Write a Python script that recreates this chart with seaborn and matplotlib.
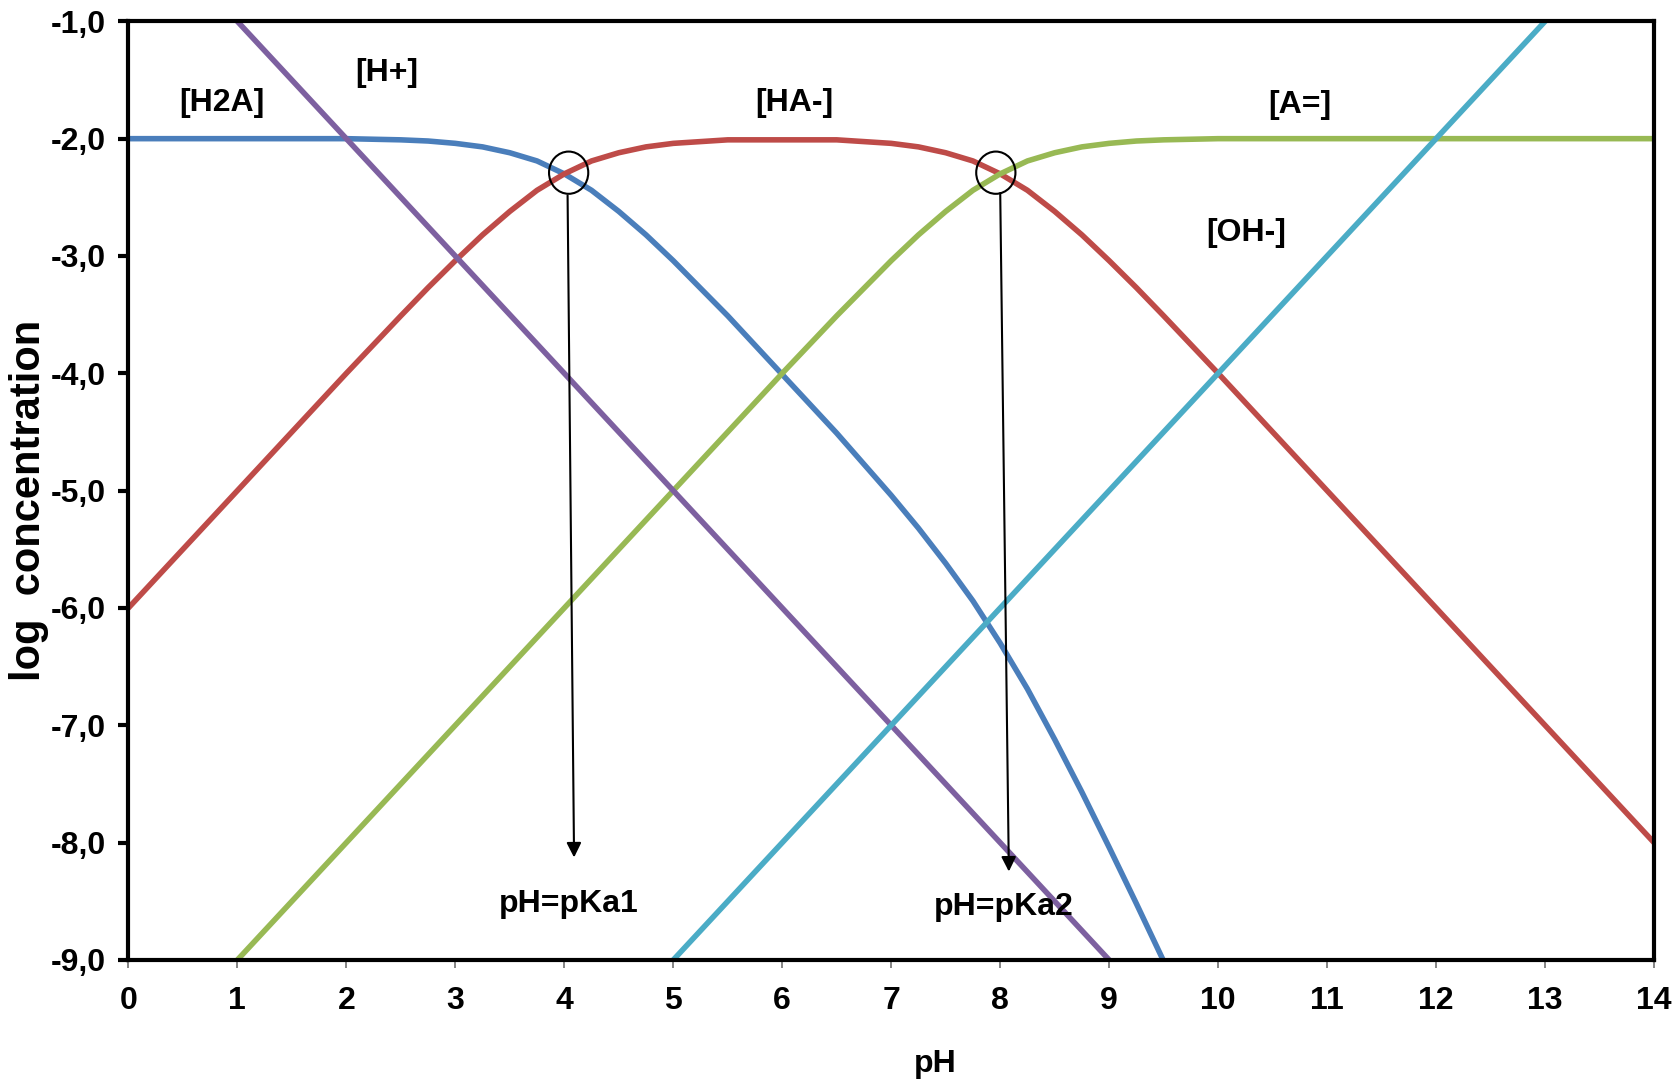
import matplotlib
matplotlib.use("Agg")
import matplotlib.pyplot as plt
import seaborn as sns
from matplotlib.patches import Ellipse
from matplotlib.ticker import FuncFormatter

# values (log concentration vs pH)
ph = [0, 1, 2, 2.5, 2.75, 3, 3.25, 3.5, 3.75, 4, 4.25, 4.5, 4.75, 5, 5.5, 6, 6.5,
      7, 7.25, 7.5, 7.75, 8, 8.25, 8.5, 8.75, 9, 9.25, 9.5, 10, 11, 12, 13, 14]
log_h2a = [-2.00, -2.00, -2.00, -2.01, -2.02, -2.04, -2.07, -2.12, -2.19, -2.30, -2.44,
           -2.62, -2.82, -3.04, -3.51, -4.01, -4.51, -5.04, -5.32, -5.62, -5.94, -6.30,
           -6.69, -7.12, -7.57, -8.04, -8.52, -9.01, -10.00]
log_ha = [-6.00, -5.00, -4.00, -3.51, -3.27, -3.04, -2.82, -2.62, -2.44, -2.30, -2.19,
          -2.12, -2.07, -2.04, -2.01, -2.01, -2.01, -2.04, -2.07, -2.12, -2.19, -2.30,
          -2.44, -2.62, -2.82, -3.04, -3.27, -3.51, -4.00, -5.00, -6.00, -7.00, -8.00]
log_a = [-10.00, -9.00, -8.00, -7.50, -7.25, -7.00, -6.75, -6.50, -6.25, -6.00, -5.75,
         -5.50, -5.25, -5.00, -4.50, -4.00, -3.51, -3.04, -2.82, -2.62, -2.44, -2.30,
         -2.19, -2.12, -2.07, -2.04, -2.02, -2.01, -2.00, -2.00, -2.00, -2.00, -2.00]
ph_h = [1, 2, 3, 4, 5, 6, 7, 8, 9]
log_h = [-1, -2, -3, -4, -5, -6, -7, -8, -9]
ph_oh = [5, 6, 7, 8, 9, 10, 11, 12, 13]
log_oh = [-9, -8, -7, -6, -5, -4, -3, -2, -1]

yticks = [-9, -8, -7, -6, -5, -4, -3, -2, -1]
xticks = list(range(0, 15))

sns.set_style("white")
plt.rcParams['font.family'] = ['Liberation Sans', 'DejaVu Sans']
plt.rcParams['font.weight'] = 'bold'
plt.rcParams['text.color'] = 'black'
plt.rcParams['axes.labelcolor'] = 'black'
plt.rcParams['xtick.color'] = 'black'
plt.rcParams['ytick.color'] = 'black'

fig = plt.figure(figsize=(16.76, 10.83), dpi=100)
ax = fig.add_axes([0.0766, 0.1136, 0.9103, 0.8667])

lw = 4
sns.lineplot(x=ph[:len(log_h2a)], y=log_h2a, color='#4A7EBB', lw=lw, ax=ax)
sns.lineplot(x=ph, y=log_ha, color='#BE4B48', lw=lw, ax=ax)
sns.lineplot(x=ph, y=log_a, color='#98B954', lw=lw, ax=ax)
sns.lineplot(x=ph_h, y=log_h, color='#7D60A0', lw=lw, ax=ax)
sns.lineplot(x=ph_oh, y=log_oh, color='#4BACC6', lw=lw, ax=ax)

ax.set_xlim(0, 14)
ax.set_ylim(-9, -1)
ax.set_xticks(xticks)
ax.set_yticks(yticks)
ax.yaxis.set_major_formatter(FuncFormatter(lambda v, p: f"{v:.1f}".replace('.', ',')))

for s in ax.spines.values():
    s.set_color('black')
    s.set_linewidth(3)

ax.tick_params(axis='y', direction='out', length=7, width=3, color='black',
               labelcolor='black', labelsize=23, pad=9, left=True)
ax.tick_params(axis='x', direction='out', length=6, width=1.2, color='#707070',
               labelcolor='black', labelsize=23, pad=13, bottom=True)
for lab in ax.get_xticklabels() + ax.get_yticklabels():
    lab.set_fontweight('bold')

ax.set_xlabel('pH', fontsize=23, fontweight='bold', color='black')
ax.xaxis.set_label_coords(0.529, -0.095)
ax.set_ylabel('log  concentration', fontsize=30, fontweight='bold', color='black')
ax.yaxis.set_label_coords(-0.052, 0.49)

# species labels
labels = [('[H2A]', 0.86, -1.70), ('[H+]', 2.37, -1.44), ('[HA-]', 6.11, -1.70),
          ('[A=]', 10.75, -1.71), ('[OH-]', 10.26, -2.80),
          ('pH=pKa1', 4.04, -8.52), ('pH=pKa2', 8.03, -8.55)]
for txt, x, y in labels:
    ax.text(x, y, txt, fontsize=23, fontweight='bold', ha='center', va='center', color='black')

# circles marking pKa crossings and arrows down to labels
for cx in [4.04, 7.96]:
    ax.add_patch(Ellipse((cx, -2.29), 0.36, 0.36, fill=False, ec='black', lw=1.5, zorder=5))
ax.annotate('', xy=(4.09, -8.15), xytext=(4.03, -2.46),
            arrowprops=dict(arrowstyle='-|>', color='black', lw=1.5, mutation_scale=22))
ax.annotate('', xy=(8.08, -8.27), xytext=(8.00, -2.44),
            arrowprops=dict(arrowstyle='-|>', color='black', lw=1.5, mutation_scale=22))

plt.savefig('out.png', dpi=100)
